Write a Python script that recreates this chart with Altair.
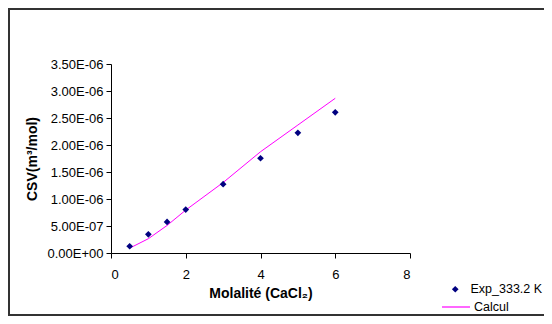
import altair as alt
import pandas as pd

molality = [0.5, 1.0, 1.5, 2.0, 3.0, 4.0, 5.0, 6.0]
csv_exp = [1.25e-7, 3.45e-7, 5.75e-7, 8.05e-7, 1.275e-6, 1.755e-6, 2.225e-6, 2.605e-6]
csv_calc = [9.0e-8, 2.65e-7, 5.1e-7, 7.95e-7, 1.305e-6, 1.875e-6, 2.37e-6, 2.865e-6]
y_ticks = [0.0, 5e-7, 1e-6, 1.5e-6, 2e-6, 2.5e-6, 3e-6, 3.5e-6]
y_tick_labels = ["0.00E+00", "5.00E-07", "1.00E-06", "1.50E-06", "2.00E-06",
                 "2.50E-06", "3.00E-06", "3.50E-06"]
x_ticks = [0, 2, 4, 6, 8]
series_names = ["Exp_333.2 K", "Calcul"]

FONT = "Liberation Sans"

exp_df = pd.DataFrame({"m": molality, "v": csv_exp, "s": series_names[0]})
calc_df = pd.DataFrame({"m": molality, "v": csv_calc, "s": series_names[1]})

label_expr = "[" + ",".join("'%s'" % t for t in y_tick_labels) + "][round(datum.value/5e-7)]"

xscale = alt.Scale(domain=[0, 8], nice=False, zero=True)
yscale = alt.Scale(domain=[0, 3.5e-6], nice=False)


def xaxis():
    return alt.Axis(values=x_ticks, title="Molalité (CaCl₂)", grid=False, tickSize=5,
                    labelPadding=10, titlePadding=5, domainColor="#000000", tickColor="#000000",
                    labelFont=FONT, titleFont=FONT, labelFontSize=13, titleFontSize=14,
                    titleFontWeight="bold", labelColor="#000000", titleColor="#000000",
                    labelOverlap=False)


def yaxis():
    return alt.Axis(values=y_ticks, labelExpr=label_expr, tickCount=8,
                    title="CSV(m³/mol)", grid=False, tickSize=5, labelPadding=3, titlePadding=7,
                    domainColor="#000000", tickColor="#000000",
                    labelFont=FONT, titleFont=FONT, labelFontSize=13, titleFontSize=14,
                    titleFontWeight="bold", labelColor="#000000", titleColor="#000000",
                    labelOverlap=False)


border = alt.Chart(pd.DataFrame({"a": [0]})).mark_rect(
    fill=None, stroke="#333333", strokeWidth=2
).encode(x=alt.value(-102), x2=alt.value(480), y=alt.value(-55), y2=alt.value(251))

points = alt.Chart(exp_df).mark_point(filled=True, color="#000080", size=45, opacity=1).encode(
    x=alt.X("m:Q", scale=xscale, axis=xaxis()),
    y=alt.Y("v:Q", scale=yscale, axis=yaxis()),
    shape=alt.Shape("s:N", scale=alt.Scale(domain=[series_names[0]], range=["diamond"]),
                    legend=alt.Legend(title=None, orient="none", legendX=338, legendY=219,
                                      labelFont=FONT, labelFontSize=12.5, labelColor="#000000",
                                      symbolSize=45, labelOffset=9, padding=0)),
)

line = alt.Chart(calc_df).mark_line(strokeWidth=1).encode(
    x=alt.X("m:Q", scale=xscale, axis=xaxis()),
    y=alt.Y("v:Q", scale=yscale, axis=yaxis()),
    color=alt.Color("s:N", scale=alt.Scale(domain=[series_names[1]], range=["#FF00FF"]),
                    legend=alt.Legend(title=None, orient="none", legendX=330, legendY=228,
                                      labelFont=FONT, labelFontSize=12.5, labelColor="#000000",
                                      symbolType="stroke", symbolSize=784, symbolStrokeWidth=1.2,
                                      symbolStrokeColor="#FF00FF",
                                      labelOffset=3, padding=0)),
)

chart = alt.layer(line, points, border).properties(
    width=299, height=189,
    autosize=alt.AutoSizeParams(type="none"),
    padding={"left": 103, "top": 56, "right": 134, "bottom": 63},
).configure_view(stroke=None)

chart.save("out.html", embed_options={"renderer": "svg", "actions": False})
